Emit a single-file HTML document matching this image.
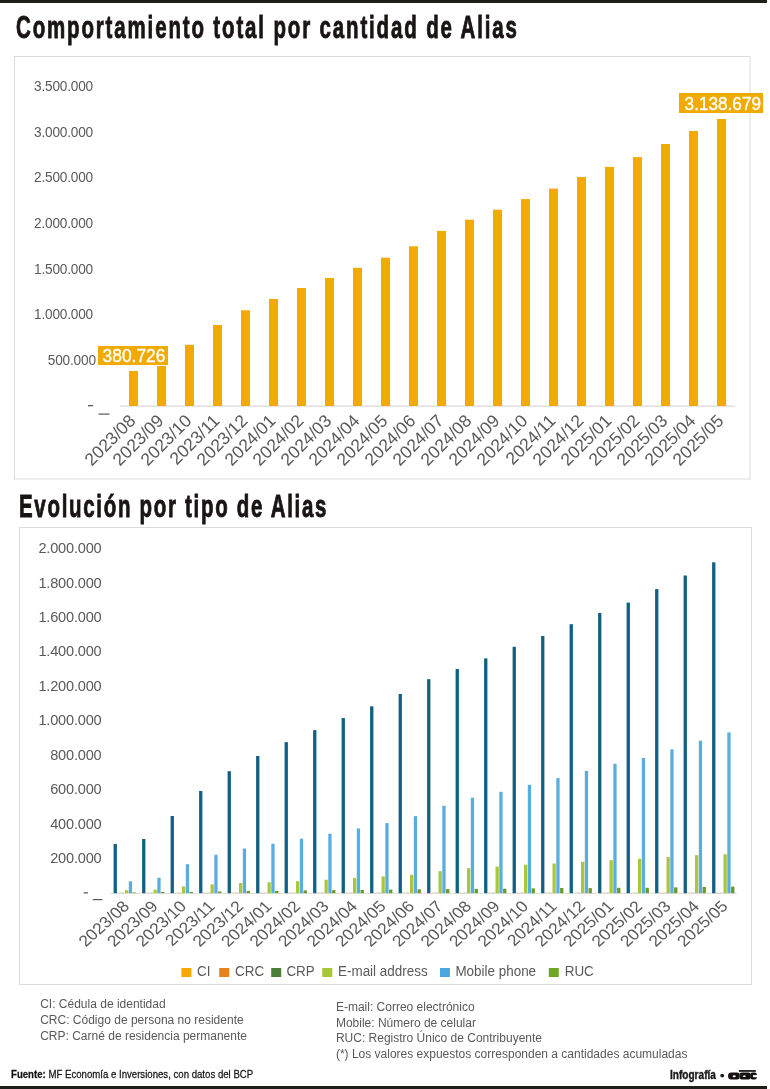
<!DOCTYPE html><html><head><meta charset="utf-8"><style>html,body{margin:0;padding:0;background:#fff;}svg{display:block;will-change:transform;}text{font-family:"Liberation Sans",sans-serif;}</style></head><body>
<svg width="770" height="1089" viewBox="0 0 770 1089">
<rect x="0" y="0" width="770" height="1089" fill="#fff"/>
<rect x="0" y="0" width="767" height="3" fill="#1e1e1a"/>
<text transform="translate(16,37.7) scale(0.65,1)" font-size="31.5" font-weight="bold" letter-spacing="2.87" stroke="#1a1414" stroke-width="0.9" fill="#1a1414">Comportamiento total por cantidad de Alias</text>
<rect x="14.5" y="56.5" width="735.5" height="422.5" fill="none" stroke="#dcdcdc" stroke-width="1"/>
<text transform="translate(93,90.8) scale(0.88,1)" font-size="15.5" fill="#595959" text-anchor="end" letter-spacing="-0.2">3.500.000</text>
<text transform="translate(93,136.5) scale(0.88,1)" font-size="15.5" fill="#595959" text-anchor="end" letter-spacing="-0.2">3.000.000</text>
<text transform="translate(93,182.2) scale(0.88,1)" font-size="15.5" fill="#595959" text-anchor="end" letter-spacing="-0.2">2.500.000</text>
<text transform="translate(93,227.9) scale(0.88,1)" font-size="15.5" fill="#595959" text-anchor="end" letter-spacing="-0.2">2.000.000</text>
<text transform="translate(93,273.6) scale(0.88,1)" font-size="15.5" fill="#595959" text-anchor="end" letter-spacing="-0.2">1.500.000</text>
<text transform="translate(93,319.3) scale(0.88,1)" font-size="15.5" fill="#595959" text-anchor="end" letter-spacing="-0.2">1.000.000</text>
<text transform="translate(95.8,365.0) scale(0.88,1)" font-size="15.5" fill="#595959" text-anchor="end" letter-spacing="-0.2">500.000</text>
<rect x="88" y="405" width="5" height="1.3" fill="#595959"/>
<rect x="98.5" y="413.5" width="11" height="1.2" fill="#595959"/>
<rect x="120" y="405.5" width="615" height="1.2" fill="#d9d9d9"/>
<rect x="129" y="371" width="9" height="35" fill="#f1aa00"/>
<rect x="157" y="366" width="9" height="40" fill="#f1aa00"/>
<rect x="185" y="344.8" width="9" height="61.19999999999999" fill="#f1aa00"/>
<rect x="213" y="325" width="9" height="81" fill="#f1aa00"/>
<rect x="241" y="310.3" width="9" height="95.69999999999999" fill="#f1aa00"/>
<rect x="269" y="299" width="9" height="107" fill="#f1aa00"/>
<rect x="297" y="288" width="9" height="118" fill="#f1aa00"/>
<rect x="325" y="278" width="9" height="128" fill="#f1aa00"/>
<rect x="353" y="267.8" width="9" height="138.2" fill="#f1aa00"/>
<rect x="381" y="257.7" width="9" height="148.3" fill="#f1aa00"/>
<rect x="409" y="246.3" width="9" height="159.7" fill="#f1aa00"/>
<rect x="437" y="230.9" width="9" height="175.1" fill="#f1aa00"/>
<rect x="465" y="219.7" width="9" height="186.3" fill="#f1aa00"/>
<rect x="493" y="209.7" width="9" height="196.3" fill="#f1aa00"/>
<rect x="521" y="199.1" width="9" height="206.9" fill="#f1aa00"/>
<rect x="549" y="188.6" width="9" height="217.4" fill="#f1aa00"/>
<rect x="577" y="177" width="9" height="229" fill="#f1aa00"/>
<rect x="605" y="166.9" width="9" height="239.1" fill="#f1aa00"/>
<rect x="633" y="157.1" width="9" height="248.9" fill="#f1aa00"/>
<rect x="661" y="144" width="9" height="262" fill="#f1aa00"/>
<rect x="689" y="131" width="9" height="275" fill="#f1aa00"/>
<rect x="717" y="119" width="9" height="287" fill="#f1aa00"/>
<text transform="translate(136.6,421.9) rotate(-45)" font-size="17.5" fill="#595959" text-anchor="end">2023/08</text>
<text transform="translate(164.6,421.9) rotate(-45)" font-size="17.5" fill="#595959" text-anchor="end">2023/09</text>
<text transform="translate(192.6,421.9) rotate(-45)" font-size="17.5" fill="#595959" text-anchor="end">2023/10</text>
<text transform="translate(220.6,421.9) rotate(-45)" font-size="17.5" fill="#595959" text-anchor="end">2023/11</text>
<text transform="translate(248.6,421.9) rotate(-45)" font-size="17.5" fill="#595959" text-anchor="end">2023/12</text>
<text transform="translate(276.6,421.9) rotate(-45)" font-size="17.5" fill="#595959" text-anchor="end">2024/01</text>
<text transform="translate(304.6,421.9) rotate(-45)" font-size="17.5" fill="#595959" text-anchor="end">2024/02</text>
<text transform="translate(332.6,421.9) rotate(-45)" font-size="17.5" fill="#595959" text-anchor="end">2024/03</text>
<text transform="translate(360.6,421.9) rotate(-45)" font-size="17.5" fill="#595959" text-anchor="end">2024/04</text>
<text transform="translate(388.6,421.9) rotate(-45)" font-size="17.5" fill="#595959" text-anchor="end">2024/05</text>
<text transform="translate(416.6,421.9) rotate(-45)" font-size="17.5" fill="#595959" text-anchor="end">2024/06</text>
<text transform="translate(444.6,421.9) rotate(-45)" font-size="17.5" fill="#595959" text-anchor="end">2024/07</text>
<text transform="translate(472.6,421.9) rotate(-45)" font-size="17.5" fill="#595959" text-anchor="end">2024/08</text>
<text transform="translate(500.6,421.9) rotate(-45)" font-size="17.5" fill="#595959" text-anchor="end">2024/09</text>
<text transform="translate(528.6,421.9) rotate(-45)" font-size="17.5" fill="#595959" text-anchor="end">2024/10</text>
<text transform="translate(556.6,421.9) rotate(-45)" font-size="17.5" fill="#595959" text-anchor="end">2024/11</text>
<text transform="translate(584.6,421.9) rotate(-45)" font-size="17.5" fill="#595959" text-anchor="end">2024/12</text>
<text transform="translate(612.6,421.9) rotate(-45)" font-size="17.5" fill="#595959" text-anchor="end">2025/01</text>
<text transform="translate(640.6,421.9) rotate(-45)" font-size="17.5" fill="#595959" text-anchor="end">2025/02</text>
<text transform="translate(668.6,421.9) rotate(-45)" font-size="17.5" fill="#595959" text-anchor="end">2025/03</text>
<text transform="translate(696.6,421.9) rotate(-45)" font-size="17.5" fill="#595959" text-anchor="end">2025/04</text>
<text transform="translate(724.6,421.9) rotate(-45)" font-size="17.5" fill="#595959" text-anchor="end">2025/05</text>
<rect x="98" y="346" width="70" height="19" fill="#f1aa00"/>
<text transform="translate(102.6,361.5) scale(0.965,1)" font-size="18" fill="#fff" stroke="#fff" stroke-width="0.35">380.726</text>
<rect x="679" y="93" width="84" height="20" fill="#f1aa00"/>
<text transform="translate(684.6,109.6) scale(0.955,1)" font-size="18" fill="#fff" stroke="#fff" stroke-width="0.35">3.138.679</text>
<text transform="translate(19,516.6) scale(0.65,1)" font-size="31.5" font-weight="bold" letter-spacing="2.63" stroke="#1a1414" stroke-width="0.9" fill="#1a1414">Evolución por tipo de Alias</text>
<rect x="19.5" y="527.5" width="732" height="457" fill="none" stroke="#dcdcdc" stroke-width="1"/>
<text transform="translate(101.5,553.0) scale(0.94,1)" font-size="15.5" fill="#595959" text-anchor="end" letter-spacing="-0.2">2.000.000</text>
<text transform="translate(101.5,587.5) scale(0.94,1)" font-size="15.5" fill="#595959" text-anchor="end" letter-spacing="-0.2">1.800.000</text>
<text transform="translate(101.5,621.9) scale(0.94,1)" font-size="15.5" fill="#595959" text-anchor="end" letter-spacing="-0.2">1.600.000</text>
<text transform="translate(101.5,656.3) scale(0.94,1)" font-size="15.5" fill="#595959" text-anchor="end" letter-spacing="-0.2">1.400.000</text>
<text transform="translate(101.5,690.8) scale(0.94,1)" font-size="15.5" fill="#595959" text-anchor="end" letter-spacing="-0.2">1.200.000</text>
<text transform="translate(101.5,725.2) scale(0.94,1)" font-size="15.5" fill="#595959" text-anchor="end" letter-spacing="-0.2">1.000.000</text>
<text transform="translate(101.5,759.7) scale(0.94,1)" font-size="15.5" fill="#595959" text-anchor="end" letter-spacing="-0.2">800.000</text>
<text transform="translate(101.5,794.1) scale(0.94,1)" font-size="15.5" fill="#595959" text-anchor="end" letter-spacing="-0.2">600.000</text>
<text transform="translate(101.5,828.6) scale(0.94,1)" font-size="15.5" fill="#595959" text-anchor="end" letter-spacing="-0.2">400.000</text>
<text transform="translate(101.5,863.0) scale(0.94,1)" font-size="15.5" fill="#595959" text-anchor="end" letter-spacing="-0.2">200.000</text>
<rect x="83.7" y="892.2" width="4.2" height="1.3" fill="#595959"/>
<rect x="92.7" y="899" width="9.7" height="1.2" fill="#595959"/>
<rect x="109.7" y="892.8" width="627" height="1" fill="#e0d8d8"/>
<rect x="113.60" y="844" width="3.3" height="49.2" fill="#0f6083"/>
<rect x="125.00" y="890.2" width="3.3" height="3.0" fill="#a9c63c"/>
<rect x="128.80" y="881.3" width="3.3" height="11.9" fill="#5aaedf"/>
<rect x="117.40" y="892.4" width="3.3" height="0.8" fill="#e8821e" opacity="0.25"/>
<rect x="121.20" y="892.4" width="3.3" height="0.8" fill="#4a7f3a" opacity="0.25"/>
<rect x="132.60" y="892.5" width="3.3" height="0.7" fill="#6b9a2a"/>
<rect x="142.10" y="839" width="3.3" height="54.2" fill="#0f6083"/>
<rect x="153.50" y="889.6" width="3.3" height="3.6" fill="#a9c63c"/>
<rect x="157.30" y="877.7" width="3.3" height="15.5" fill="#5aaedf"/>
<rect x="145.90" y="892.4" width="3.3" height="0.8" fill="#e8821e" opacity="0.25"/>
<rect x="149.70" y="892.4" width="3.3" height="0.8" fill="#4a7f3a" opacity="0.25"/>
<rect x="161.10" y="891.9" width="3.3" height="1.3" fill="#6b9a2a"/>
<rect x="170.60" y="816" width="3.3" height="77.2" fill="#0f6083"/>
<rect x="182.00" y="886.4" width="3.3" height="6.8" fill="#a9c63c"/>
<rect x="185.80" y="864.2" width="3.3" height="29.0" fill="#5aaedf"/>
<rect x="174.40" y="892.4" width="3.3" height="0.8" fill="#e8821e" opacity="0.25"/>
<rect x="178.20" y="892.4" width="3.3" height="0.8" fill="#4a7f3a" opacity="0.25"/>
<rect x="189.60" y="891.9" width="3.3" height="1.3" fill="#6b9a2a"/>
<rect x="199.10" y="791" width="3.3" height="102.2" fill="#0f6083"/>
<rect x="210.50" y="884.4" width="3.3" height="8.8" fill="#a9c63c"/>
<rect x="214.30" y="854.8" width="3.3" height="38.4" fill="#5aaedf"/>
<rect x="202.90" y="892.4" width="3.3" height="0.8" fill="#e8821e" opacity="0.25"/>
<rect x="206.70" y="892.4" width="3.3" height="0.8" fill="#4a7f3a" opacity="0.25"/>
<rect x="218.10" y="891.5" width="3.3" height="1.7" fill="#6b9a2a"/>
<rect x="227.60" y="771.2" width="3.3" height="122.0" fill="#0f6083"/>
<rect x="239.00" y="883.1" width="3.3" height="10.1" fill="#a9c63c"/>
<rect x="242.80" y="848.5" width="3.3" height="44.7" fill="#5aaedf"/>
<rect x="231.40" y="892.4" width="3.3" height="0.8" fill="#e8821e" opacity="0.25"/>
<rect x="235.20" y="892.4" width="3.3" height="0.8" fill="#4a7f3a" opacity="0.25"/>
<rect x="246.60" y="890.9" width="3.3" height="2.3" fill="#6b9a2a"/>
<rect x="256.10" y="756" width="3.3" height="137.2" fill="#0f6083"/>
<rect x="267.50" y="882.3" width="3.3" height="10.9" fill="#a9c63c"/>
<rect x="271.30" y="843.7" width="3.3" height="49.5" fill="#5aaedf"/>
<rect x="259.90" y="892.4" width="3.3" height="0.8" fill="#e8821e" opacity="0.25"/>
<rect x="263.70" y="892.4" width="3.3" height="0.8" fill="#4a7f3a" opacity="0.25"/>
<rect x="275.10" y="890.9" width="3.3" height="2.3" fill="#6b9a2a"/>
<rect x="284.60" y="742.1" width="3.3" height="151.1" fill="#0f6083"/>
<rect x="296.00" y="881.2" width="3.3" height="12.0" fill="#a9c63c"/>
<rect x="299.80" y="838.7" width="3.3" height="54.5" fill="#5aaedf"/>
<rect x="288.40" y="892.4" width="3.3" height="0.8" fill="#e8821e" opacity="0.25"/>
<rect x="292.20" y="892.4" width="3.3" height="0.8" fill="#4a7f3a" opacity="0.25"/>
<rect x="303.60" y="890.4" width="3.3" height="2.8" fill="#6b9a2a"/>
<rect x="313.10" y="730.1" width="3.3" height="163.1" fill="#0f6083"/>
<rect x="324.50" y="879.7" width="3.3" height="13.5" fill="#a9c63c"/>
<rect x="328.30" y="833.7" width="3.3" height="59.5" fill="#5aaedf"/>
<rect x="316.90" y="892.4" width="3.3" height="0.8" fill="#e8821e" opacity="0.25"/>
<rect x="320.70" y="892.4" width="3.3" height="0.8" fill="#4a7f3a" opacity="0.25"/>
<rect x="332.10" y="890.1" width="3.3" height="3.1" fill="#6b9a2a"/>
<rect x="341.60" y="718.1" width="3.3" height="175.1" fill="#0f6083"/>
<rect x="353.00" y="877.9" width="3.3" height="15.3" fill="#a9c63c"/>
<rect x="356.80" y="828.5" width="3.3" height="64.7" fill="#5aaedf"/>
<rect x="345.40" y="892.4" width="3.3" height="0.8" fill="#e8821e" opacity="0.25"/>
<rect x="349.20" y="892.4" width="3.3" height="0.8" fill="#4a7f3a" opacity="0.25"/>
<rect x="360.60" y="889.9" width="3.3" height="3.3" fill="#6b9a2a"/>
<rect x="370.10" y="706.3" width="3.3" height="186.9" fill="#0f6083"/>
<rect x="381.50" y="876.4" width="3.3" height="16.8" fill="#a9c63c"/>
<rect x="385.30" y="823.1" width="3.3" height="70.1" fill="#5aaedf"/>
<rect x="373.90" y="892.4" width="3.3" height="0.8" fill="#e8821e" opacity="0.25"/>
<rect x="377.70" y="892.4" width="3.3" height="0.8" fill="#4a7f3a" opacity="0.25"/>
<rect x="389.10" y="889.6" width="3.3" height="3.6" fill="#6b9a2a"/>
<rect x="398.60" y="694" width="3.3" height="199.2" fill="#0f6083"/>
<rect x="410.00" y="874.8" width="3.3" height="18.4" fill="#a9c63c"/>
<rect x="413.80" y="816.1" width="3.3" height="77.1" fill="#5aaedf"/>
<rect x="402.40" y="892.4" width="3.3" height="0.8" fill="#e8821e" opacity="0.25"/>
<rect x="406.20" y="892.4" width="3.3" height="0.8" fill="#4a7f3a" opacity="0.25"/>
<rect x="417.60" y="889.3" width="3.3" height="3.9" fill="#6b9a2a"/>
<rect x="427.10" y="679.2" width="3.3" height="214.0" fill="#0f6083"/>
<rect x="438.50" y="871.2" width="3.3" height="22.0" fill="#a9c63c"/>
<rect x="442.30" y="805.8" width="3.3" height="87.4" fill="#5aaedf"/>
<rect x="430.90" y="892.4" width="3.3" height="0.8" fill="#e8821e" opacity="0.25"/>
<rect x="434.70" y="892.4" width="3.3" height="0.8" fill="#4a7f3a" opacity="0.25"/>
<rect x="446.10" y="889.1" width="3.3" height="4.1" fill="#6b9a2a"/>
<rect x="455.60" y="669" width="3.3" height="224.2" fill="#0f6083"/>
<rect x="467.00" y="868.2" width="3.3" height="25.0" fill="#a9c63c"/>
<rect x="470.80" y="797.7" width="3.3" height="95.5" fill="#5aaedf"/>
<rect x="459.40" y="892.4" width="3.3" height="0.8" fill="#e8821e" opacity="0.25"/>
<rect x="463.20" y="892.4" width="3.3" height="0.8" fill="#4a7f3a" opacity="0.25"/>
<rect x="474.60" y="888.9" width="3.3" height="4.3" fill="#6b9a2a"/>
<rect x="484.10" y="658.4" width="3.3" height="234.8" fill="#0f6083"/>
<rect x="495.50" y="866.6" width="3.3" height="26.6" fill="#a9c63c"/>
<rect x="499.30" y="791.8" width="3.3" height="101.4" fill="#5aaedf"/>
<rect x="487.90" y="892.4" width="3.3" height="0.8" fill="#e8821e" opacity="0.25"/>
<rect x="491.70" y="892.4" width="3.3" height="0.8" fill="#4a7f3a" opacity="0.25"/>
<rect x="503.10" y="888.7" width="3.3" height="4.5" fill="#6b9a2a"/>
<rect x="512.60" y="646.8" width="3.3" height="246.4" fill="#0f6083"/>
<rect x="524.00" y="864.7" width="3.3" height="28.5" fill="#a9c63c"/>
<rect x="527.80" y="784.8" width="3.3" height="108.4" fill="#5aaedf"/>
<rect x="516.40" y="892.4" width="3.3" height="0.8" fill="#e8821e" opacity="0.25"/>
<rect x="520.20" y="892.4" width="3.3" height="0.8" fill="#4a7f3a" opacity="0.25"/>
<rect x="531.60" y="888.4" width="3.3" height="4.8" fill="#6b9a2a"/>
<rect x="541.10" y="636" width="3.3" height="257.2" fill="#0f6083"/>
<rect x="552.50" y="863.5" width="3.3" height="29.7" fill="#a9c63c"/>
<rect x="556.30" y="778.1" width="3.3" height="115.1" fill="#5aaedf"/>
<rect x="544.90" y="892.4" width="3.3" height="0.8" fill="#e8821e" opacity="0.25"/>
<rect x="548.70" y="892.4" width="3.3" height="0.8" fill="#4a7f3a" opacity="0.25"/>
<rect x="560.10" y="888" width="3.3" height="5.2" fill="#6b9a2a"/>
<rect x="569.60" y="624.2" width="3.3" height="269.0" fill="#0f6083"/>
<rect x="581.00" y="861.8" width="3.3" height="31.4" fill="#a9c63c"/>
<rect x="584.80" y="770.9" width="3.3" height="122.3" fill="#5aaedf"/>
<rect x="573.40" y="892.4" width="3.3" height="0.8" fill="#e8821e" opacity="0.25"/>
<rect x="577.20" y="892.4" width="3.3" height="0.8" fill="#4a7f3a" opacity="0.25"/>
<rect x="588.60" y="888.1" width="3.3" height="5.1" fill="#6b9a2a"/>
<rect x="598.10" y="612.9" width="3.3" height="280.3" fill="#0f6083"/>
<rect x="609.50" y="860.2" width="3.3" height="33.0" fill="#a9c63c"/>
<rect x="613.30" y="763.8" width="3.3" height="129.4" fill="#5aaedf"/>
<rect x="601.90" y="892.4" width="3.3" height="0.8" fill="#e8821e" opacity="0.25"/>
<rect x="605.70" y="892.4" width="3.3" height="0.8" fill="#4a7f3a" opacity="0.25"/>
<rect x="617.10" y="887.8" width="3.3" height="5.4" fill="#6b9a2a"/>
<rect x="626.60" y="602.6" width="3.3" height="290.6" fill="#0f6083"/>
<rect x="638.00" y="858.8" width="3.3" height="34.4" fill="#a9c63c"/>
<rect x="641.80" y="758" width="3.3" height="135.2" fill="#5aaedf"/>
<rect x="630.40" y="892.4" width="3.3" height="0.8" fill="#e8821e" opacity="0.25"/>
<rect x="634.20" y="892.4" width="3.3" height="0.8" fill="#4a7f3a" opacity="0.25"/>
<rect x="645.60" y="887.8" width="3.3" height="5.4" fill="#6b9a2a"/>
<rect x="655.10" y="589.1" width="3.3" height="304.1" fill="#0f6083"/>
<rect x="666.50" y="856.9" width="3.3" height="36.3" fill="#a9c63c"/>
<rect x="670.30" y="749.4" width="3.3" height="143.8" fill="#5aaedf"/>
<rect x="658.90" y="892.4" width="3.3" height="0.8" fill="#e8821e" opacity="0.25"/>
<rect x="662.70" y="892.4" width="3.3" height="0.8" fill="#4a7f3a" opacity="0.25"/>
<rect x="674.10" y="887.4" width="3.3" height="5.8" fill="#6b9a2a"/>
<rect x="683.60" y="575.5" width="3.3" height="317.7" fill="#0f6083"/>
<rect x="695.00" y="855.2" width="3.3" height="38.0" fill="#a9c63c"/>
<rect x="698.80" y="740.7" width="3.3" height="152.5" fill="#5aaedf"/>
<rect x="687.40" y="892.4" width="3.3" height="0.8" fill="#e8821e" opacity="0.25"/>
<rect x="691.20" y="892.4" width="3.3" height="0.8" fill="#4a7f3a" opacity="0.25"/>
<rect x="702.60" y="886.9" width="3.3" height="6.3" fill="#6b9a2a"/>
<rect x="712.10" y="562.3" width="3.3" height="330.9" fill="#0f6083"/>
<rect x="723.50" y="854.2" width="3.3" height="39.0" fill="#a9c63c"/>
<rect x="727.30" y="732.4" width="3.3" height="160.8" fill="#5aaedf"/>
<rect x="715.90" y="892.4" width="3.3" height="0.8" fill="#e8821e" opacity="0.25"/>
<rect x="719.70" y="892.4" width="3.3" height="0.8" fill="#4a7f3a" opacity="0.25"/>
<rect x="731.10" y="886.6" width="3.3" height="6.6" fill="#6b9a2a"/>
<text transform="translate(130.4,907.4) scale(1.0,0.9) rotate(-45)" font-size="17.5" fill="#595959" text-anchor="end">2023/08</text>
<text transform="translate(158.9,907.4) scale(1.0,0.9) rotate(-45)" font-size="17.5" fill="#595959" text-anchor="end">2023/09</text>
<text transform="translate(187.4,907.4) scale(1.0,0.9) rotate(-45)" font-size="17.5" fill="#595959" text-anchor="end">2023/10</text>
<text transform="translate(215.9,907.4) scale(1.0,0.9) rotate(-45)" font-size="17.5" fill="#595959" text-anchor="end">2023/11</text>
<text transform="translate(244.4,907.4) scale(1.0,0.9) rotate(-45)" font-size="17.5" fill="#595959" text-anchor="end">2023/12</text>
<text transform="translate(272.9,907.4) scale(1.0,0.9) rotate(-45)" font-size="17.5" fill="#595959" text-anchor="end">2024/01</text>
<text transform="translate(301.4,907.4) scale(1.0,0.9) rotate(-45)" font-size="17.5" fill="#595959" text-anchor="end">2024/02</text>
<text transform="translate(329.9,907.4) scale(1.0,0.9) rotate(-45)" font-size="17.5" fill="#595959" text-anchor="end">2024/03</text>
<text transform="translate(358.4,907.4) scale(1.0,0.9) rotate(-45)" font-size="17.5" fill="#595959" text-anchor="end">2024/04</text>
<text transform="translate(386.9,907.4) scale(1.0,0.9) rotate(-45)" font-size="17.5" fill="#595959" text-anchor="end">2024/05</text>
<text transform="translate(415.4,907.4) scale(1.0,0.9) rotate(-45)" font-size="17.5" fill="#595959" text-anchor="end">2024/06</text>
<text transform="translate(443.9,907.4) scale(1.0,0.9) rotate(-45)" font-size="17.5" fill="#595959" text-anchor="end">2024/07</text>
<text transform="translate(472.4,907.4) scale(1.0,0.9) rotate(-45)" font-size="17.5" fill="#595959" text-anchor="end">2024/08</text>
<text transform="translate(500.9,907.4) scale(1.0,0.9) rotate(-45)" font-size="17.5" fill="#595959" text-anchor="end">2024/09</text>
<text transform="translate(529.4,907.4) scale(1.0,0.9) rotate(-45)" font-size="17.5" fill="#595959" text-anchor="end">2024/10</text>
<text transform="translate(557.9,907.4) scale(1.0,0.9) rotate(-45)" font-size="17.5" fill="#595959" text-anchor="end">2024/11</text>
<text transform="translate(586.4,907.4) scale(1.0,0.9) rotate(-45)" font-size="17.5" fill="#595959" text-anchor="end">2024/12</text>
<text transform="translate(614.9,907.4) scale(1.0,0.9) rotate(-45)" font-size="17.5" fill="#595959" text-anchor="end">2025/01</text>
<text transform="translate(643.4,907.4) scale(1.0,0.9) rotate(-45)" font-size="17.5" fill="#595959" text-anchor="end">2025/02</text>
<text transform="translate(671.9,907.4) scale(1.0,0.9) rotate(-45)" font-size="17.5" fill="#595959" text-anchor="end">2025/03</text>
<text transform="translate(700.4,907.4) scale(1.0,0.9) rotate(-45)" font-size="17.5" fill="#595959" text-anchor="end">2025/04</text>
<text transform="translate(728.9,907.4) scale(1.0,0.9) rotate(-45)" font-size="17.5" fill="#595959" text-anchor="end">2025/05</text>
<rect x="181.4" y="968" width="10" height="9" fill="#f5a800"/>
<text transform="translate(197,976.1) scale(0.96,1)" font-size="14" fill="#595959">CI</text>
<rect x="219.2" y="968" width="10" height="9" fill="#e8821e"/>
<text transform="translate(235,976.1) scale(0.96,1)" font-size="14" fill="#595959">CRC</text>
<rect x="271.2" y="968" width="10" height="9" fill="#4a7f3a"/>
<text transform="translate(286.4,976.1) scale(0.96,1)" font-size="14" fill="#595959">CRP</text>
<rect x="322.3" y="968" width="10" height="9" fill="#a6c932"/>
<text transform="translate(338,976.1) scale(0.96,1)" font-size="14" fill="#595959">E-mail address</text>
<rect x="440" y="968" width="10" height="9" fill="#4aa8df"/>
<text transform="translate(455.4,976.1) scale(0.96,1)" font-size="14" fill="#595959">Mobile phone</text>
<rect x="548.8" y="968" width="10" height="9" fill="#6ea823"/>
<text transform="translate(564.7,976.1) scale(0.96,1)" font-size="14" fill="#595959">RUC</text>
<text x="40.2" y="1007.8" font-size="12" fill="#595959">CI: Cédula de identidad</text>
<text x="40.2" y="1023.7" font-size="12" fill="#595959">CRC: Código de persona no residente</text>
<text x="40.2" y="1039.6" font-size="12" fill="#595959">CRP: Carné de residencia permanente</text>
<text x="335.9" y="1010.6" font-size="12" fill="#595959">E-mail: Correo electrónico</text>
<text x="335.9" y="1026.5" font-size="12" fill="#595959">Mobile: Número de celular</text>
<text x="335.9" y="1042.3" font-size="12" fill="#595959">RUC: Registro Único de Contribuyente</text>
<text x="335.9" y="1058.2" font-size="12" fill="#595959">(*) Los valores expuestos corresponden a cantidades acumuladas</text>
<text transform="translate(11,1078.3) scale(0.875,1)" font-size="11" fill="#151515" stroke="#151515" stroke-width="0.25"><tspan font-weight="bold">Fuente:</tspan> MF Economía e Inversiones, con datos del BCP</text>
<text transform="translate(670,1079.3) scale(0.84,1)" font-size="12" font-weight="bold" fill="#1a1a1a" stroke="#1a1a1a" stroke-width="0.4">Infografía</text>
<circle cx="722.2" cy="1075.6" r="1.9" fill="#1a1a1a"/>
<g fill="#151010">
<rect x="728.1" y="1072.4" width="11.8" height="7" rx="3"/>
<rect x="739.6" y="1072.4" width="11" height="7" rx="2"/>
<rect x="750.3" y="1072.4" width="6.5" height="7" rx="2"/>
<rect x="738.9" y="1070.1" width="17" height="1.7"/>
</g>
<g fill="#fff"><ellipse cx="734.2" cy="1076.3" rx="1.6" ry="1"/><ellipse cx="744.4" cy="1076.2" rx="1.3" ry="0.9"/><rect x="753" y="1075.1" width="4" height="2.1"/><rect x="739.6" y="1072.6" width="0.5" height="6.5" fill="#888"/></g>
<rect x="0" y="1086" width="767" height="3" fill="#1e1e1a"/>
</svg></body></html>
